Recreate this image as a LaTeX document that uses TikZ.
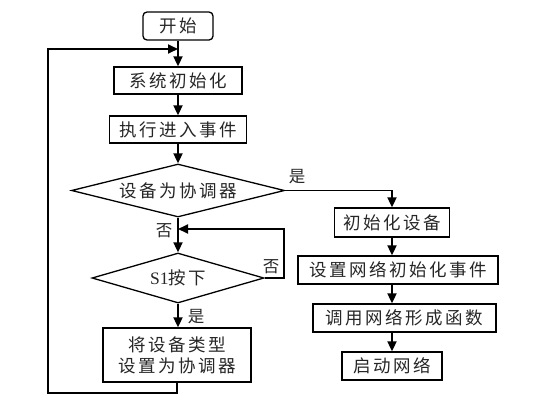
\documentclass[tikz,border=0pt]{standalone}
\usepackage{fontspec}
\setmainfont{Liberation Serif}
\newfontfamily\cjk[LetterSpace=14]{Noto Sans CJK SC}
\usetikzlibrary{arrows.meta,shapes.geometric}

\tikzset{
    box/.style={draw, inner sep=0pt, text=black!85, font=\cjk\fontsize{17.5}{21}\selectfont},
    choice/.style={draw, diamond, aspect=4, inner sep=0pt, text=black!85, font=\cjk\fontsize{17.5}{21}\selectfont},
    tag/.style={text=black!85, font=\cjk\fontsize{16.5}{19}\selectfont},
    flow/.style={-{Triangle[length=10pt, width=9pt]}, line width=1.8pt}
}

\begin{document}
\begin{tikzpicture}[x=1pt, y=-1pt, line width=1.3pt]
    \useasboundingbox (0, 0) rectangle (557, 405);

    % left column
    \node[box, rounded corners=4pt, minimum width=70pt, minimum height=28pt] (start) at (178, 26) {开始};
    \node[box, minimum width=128pt, minimum height=27pt] (sysinit) at (178, 80.5) {系统初始化};
    \node[box, minimum width=137pt, minimum height=27pt] (enter) at (178, 129.5) {执行进入事件};
    \node[choice, minimum width=213pt, minimum height=53pt] (iscoord) at (178, 190.5) {设备为协调器};
    \node[choice, minimum width=172pt, minimum height=50pt] (press) at (178, 278) {{\normalfont S1}按下};
    \node[box, align=center, minimum width=148pt, minimum height=54pt] (settype) at (177, 355) {将设备类型\\设置为协调器};

    % right column
    \node[box, minimum width=115pt, minimum height=29pt] (devinit) at (392, 222.5) {初始化设备};
    \node[box, minimum width=200pt, minimum height=28pt] (netevent) at (398, 270) {设置网络初始化事件};
    \node[box, minimum width=183pt, minimum height=28pt] (netform) at (404.5, 318) {调用网络形成函数};
    \node[box, minimum width=100pt, minimum height=28pt] (netstart) at (392, 366) {启动网络};

    % junctions
    \coordinate (join) at (178, 49);
    \coordinate (back) at (48, 393);
    \coordinate (join2) at (178, 229);
    \coordinate (noright) at (284, 229);

    % connectors
    \draw[flow] (start) -- (sysinit);
    \draw[flow] (sysinit) -- (enter);
    \draw[flow] (enter) -- (iscoord);
    \draw[flow] (iscoord) -- (press);
    \draw[flow] (press.south) -- (press.south |- settype.north);
    \draw[flow] (settype.south) |- (back) |- (join);
    \draw[flow] (press.east) -| (noright) -- (join2);
    \draw[flow] (iscoord.east) -| (devinit.north);
    \draw[flow] (devinit) -- (devinit.south |- netevent.north);
    \draw[flow] (devinit.south |- netevent.south) -- (devinit.south |- netform.north);
    \draw[flow] (devinit.south |- netform.south) -- (netstart);

    % labels
    \node[tag] (yes1) at (297, 177) {是};
    \node[tag] (no1) at (164, 231) {否};
    \node[tag] (no2) at (271, 267) {否};
    \node[tag] (yes2) at (196, 317) {是};
\end{tikzpicture}
\end{document}
